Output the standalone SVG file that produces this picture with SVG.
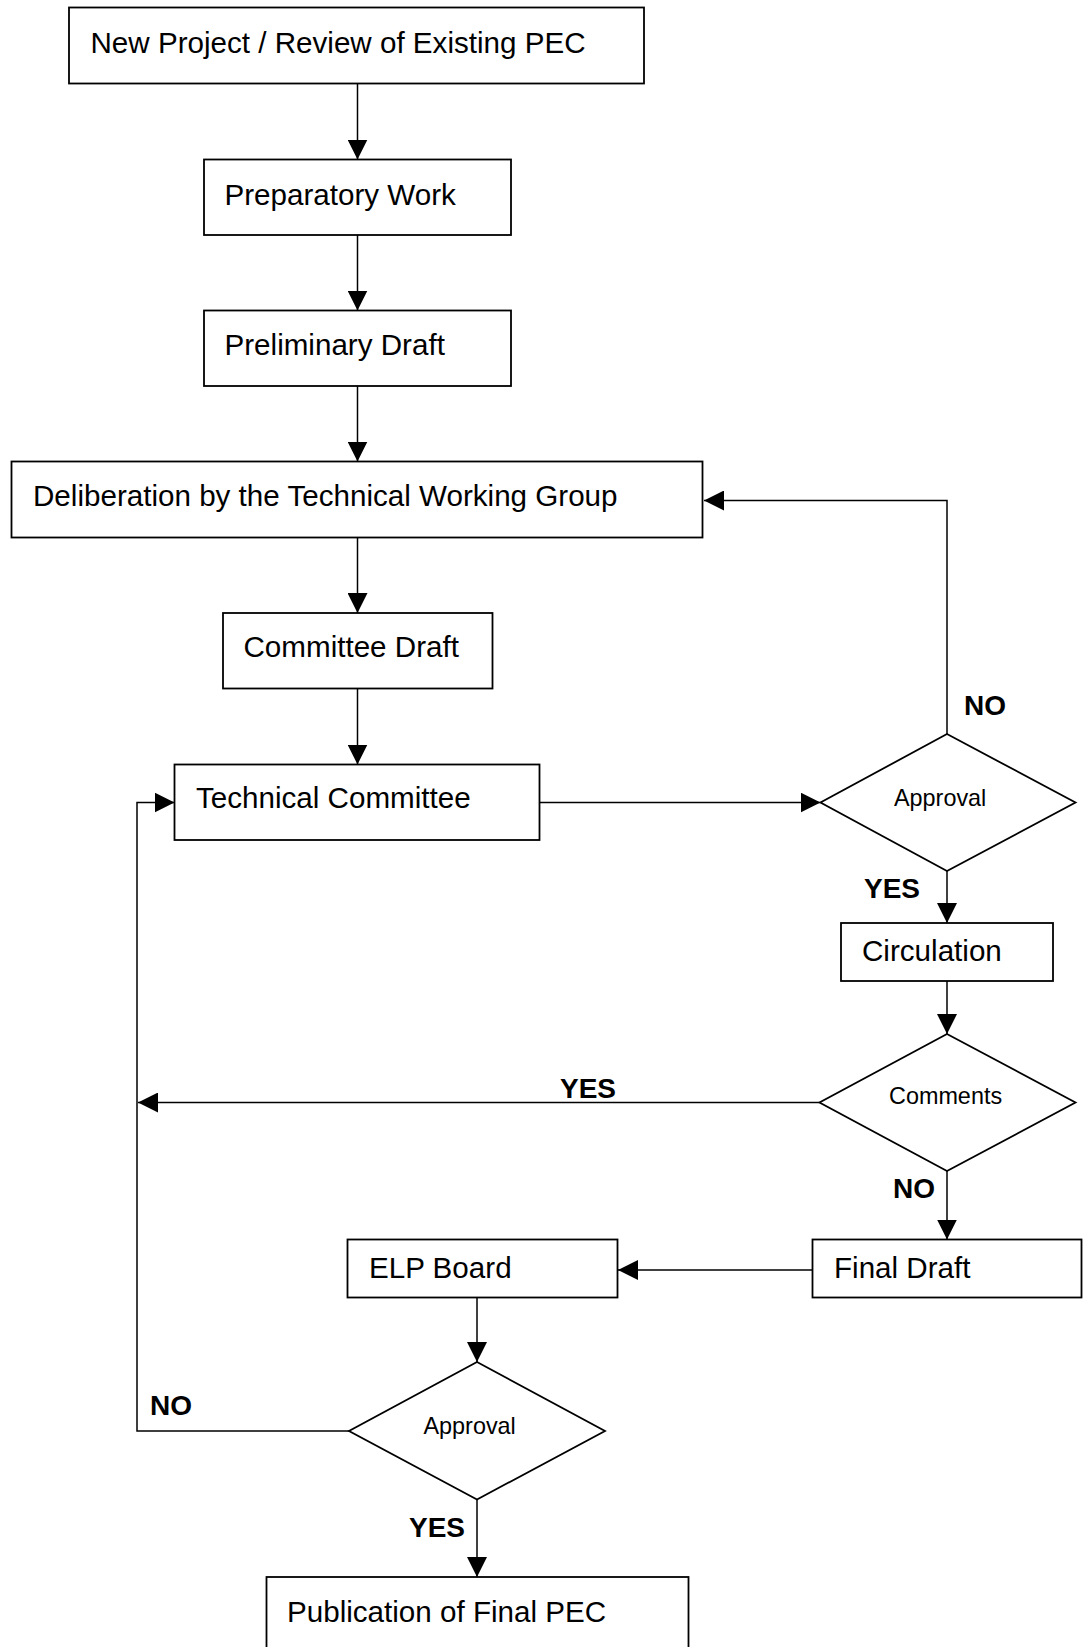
<svg xmlns="http://www.w3.org/2000/svg" width="1086" height="1647" viewBox="0 0 1086 1647">
<style>
.box{fill:#fff;stroke:#000;stroke-width:1.8}
.t{font-family:"Liberation Sans",Arial,sans-serif;font-size:29.6px;fill:#000}
.ts{font-family:"Liberation Sans",Arial,sans-serif;font-size:23.4px;fill:#000}
.lb{font-family:"Liberation Sans",Arial,sans-serif;font-size:28px;font-weight:bold;fill:#000}
.c{fill:none;stroke:#000;stroke-width:1.5}
</style>
<defs>
<marker id="ah" markerUnits="userSpaceOnUse" markerWidth="20" markerHeight="20" refX="20" refY="10" orient="auto">
<path d="M0,0 L20,10 L0,20 z" fill="#000"/>
</marker>
</defs>
<rect width="1086" height="1647" fill="#fff"/>
<g id="connectors">
<path class="c" d="M357.5,83.5 V159.5" marker-end="url(#ah)"/>
<path class="c" d="M357.5,235 V310.5" marker-end="url(#ah)"/>
<path class="c" d="M357.5,386 V461.5" marker-end="url(#ah)"/>
<path class="c" d="M357.5,537.5 V613" marker-end="url(#ah)"/>
<path class="c" d="M357.5,688.5 V764.5" marker-end="url(#ah)"/>
<path class="c" d="M539.5,802.5 H820.5" marker-end="url(#ah)"/>
<path class="c" d="M947,734 V500.5 H704" marker-end="url(#ah)"/>
<path class="c" d="M947,871 V923" marker-end="url(#ah)"/>
<path class="c" d="M947,981 V1034" marker-end="url(#ah)"/>
<path class="c" d="M819.5,1102.5 H138" marker-end="url(#ah)"/>
<path class="c" d="M947,1171 V1239.5" marker-end="url(#ah)"/>
<path class="c" d="M812.5,1270 H618" marker-end="url(#ah)"/>
<path class="c" d="M477,1297.5 V1362" marker-end="url(#ah)"/>
<path class="c" d="M349,1431 H137 V802.5 H174.5" marker-end="url(#ah)"/>
<path class="c" d="M477,1499.5 V1577" marker-end="url(#ah)"/>
<text class="lb" x="964" y="715">NO</text>
<text class="lb" x="864" y="898">YES</text>
<text class="lb" x="560" y="1097.5">YES</text>
<text class="lb" x="893" y="1198.3">NO</text>
<text class="lb" x="150" y="1415">NO</text>
<text class="lb" x="409" y="1536.7">YES</text>
</g>
<g id="n1"><rect class="box" x="69" y="7.5" width="575" height="76"/><text class="t" x="90.5" y="53">New Project / Review of Existing PEC</text></g>
<g id="n2"><rect class="box" x="204" y="159.5" width="307" height="75.5"/><text class="t" x="224.5" y="204.5">Preparatory Work</text></g>
<g id="n3"><rect class="box" x="204" y="310.5" width="307" height="75.5"/><text class="t" x="224.5" y="355">Preliminary Draft</text></g>
<g id="n4"><rect class="box" x="11.5" y="461.5" width="691" height="76"/><text class="t" x="33" y="505.5">Deliberation by the Technical Working Group</text></g>
<g id="n5"><rect class="box" x="223" y="613" width="269.5" height="75.5"/><text class="t" x="243.5" y="656.5">Committee Draft</text></g>
<g id="n6"><rect class="box" x="174.5" y="764.5" width="365" height="75.5"/><text class="t" x="196" y="808">Technical Committee</text></g>
<g id="d1"><polygon class="box" points="947,734 1075.5,802.5 947,871 820.5,802.5"/><text class="ts" x="894" y="806">Approval</text></g>
<g id="n7"><rect class="box" x="841" y="923" width="212" height="58"/><text class="t" x="862" y="961">Circulation</text></g>
<g id="d2"><polygon class="box" points="947,1034 1075.5,1102.5 947,1171 819.5,1102.5"/><text class="ts" x="889" y="1103.5">Comments</text></g>
<g id="n8"><rect class="box" x="812.5" y="1239.5" width="269" height="58"/><text class="t" x="834" y="1277.5">Final Draft</text></g>
<g id="n9"><rect class="box" x="347.5" y="1239.5" width="270" height="58"/><text class="t" x="369" y="1277.5">ELP Board</text></g>
<g id="d3"><polygon class="box" points="477,1362 605,1431 477,1499.5 349,1431"/><text class="ts" x="423.5" y="1433.5">Approval</text></g>
<g id="n10"><rect class="box" x="266.5" y="1577" width="422" height="85"/><text class="t" x="287" y="1621.5">Publication of Final PEC</text></g>
</svg>
